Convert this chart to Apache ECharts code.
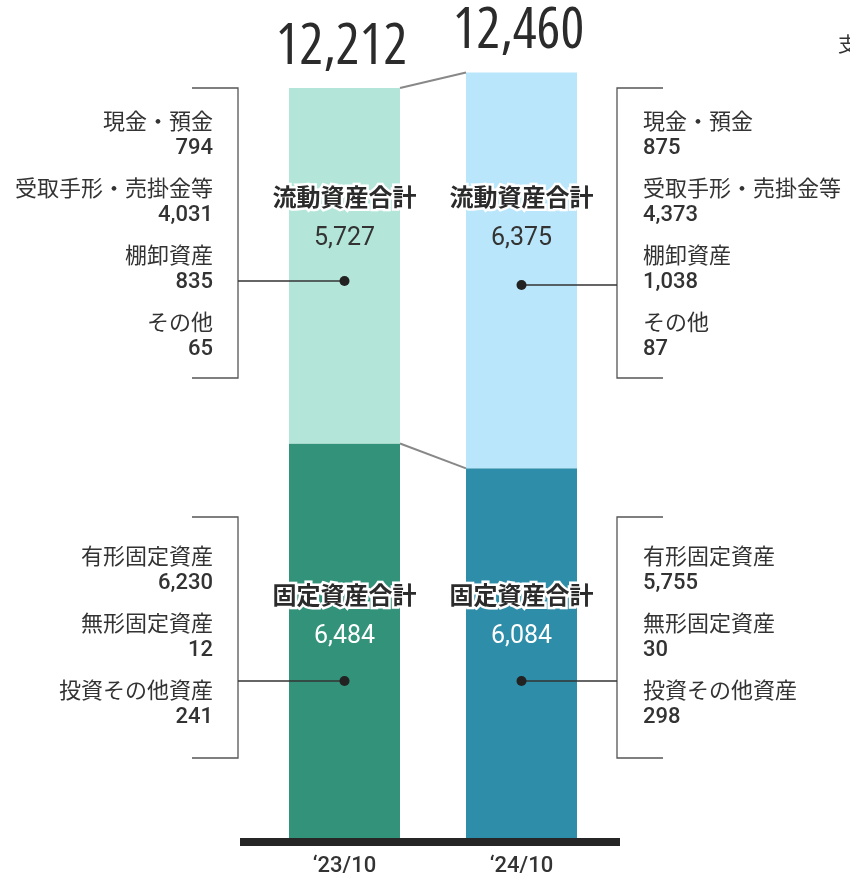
<!DOCTYPE html>
<html><head><meta charset="utf-8">
<script src="https://cdn.jsdelivr.net/npm/echarts@6/dist/echarts.min.js"></script>
<style>html,body{margin:0;padding:0;background:#fff}#c{width:850px;height:878px}</style>
</head><body><div id="c"></div>
<script>
const categories = ['‘23/10', '‘24/10'];
const grandTotals = [12212, 12460];
const currentTotals = [5727, 6375];
const fixedTotals = [6484, 6084];
const currentItemNames = ['現金・預金', '受取手形・売掛金等', '棚卸資産', 'その他'];
const currentItems0 = [794, 4031, 835, 65];
const currentItems1 = [875, 4373, 1038, 87];
const fixedItemNames = ['有形固定資産', '無形固定資産', '投資その他資産'];
const fixedItems0 = [6230, 12, 241];
const fixedItems1 = [5755, 30, 298];
const currentTitle = '流動資産合計';
const fixedTitle = '固定資産合計';

const currentItems = [currentItems0, currentItems1];
const fixedItems = [fixedItems0, fixedItems1];
const fixedColors = ['#32927a', '#2e8da8'];
const currentColors = ['#b3e6d9', '#b9e6fa'];
const BAR_W = 111;
const JP = "'Noto Sans CJK JP', 'Noto Sans', sans-serif";
const NUM = "Roboto, 'Noto Sans CJK JP', sans-serif";
const fmt = v => v.toLocaleString('en-US');

// pick a narrow font for the big totals (target ~128px wide for "12,212" at cap height ~40px)
const BIG = (function () {
  const ctx = document.createElement('canvas').getContext('2d');
  const w = f => { ctx.font = f; return ctx.measureText('12,212').width; };
  const tries = [
    ['condensed 500 56px "Noto Sans"', '500 56px "Noto Sans"'],
    ['condensed 500 56px "Open Sans"', '500 56px "Open Sans"'],
    ['condensed 56px "DejaVu Sans"', '56px "DejaVu Sans"'],
    ['56px "Liberation Sans Narrow"', '56px "Nonexistent Font Xyz"'],
    ['56px "DejaVu Sans Condensed"', '56px "Nonexistent Font Xyz"']
  ];
  for (const [a, b] of tries) {
    const wa = w(a), wb = w(b);
    if (wa < wb * 0.92) return a;
  }
  const wr = w('500 56px Roboto');
  const size = Math.round(56 * 132 / wr);
  return '500 ' + size + 'px Roboto';
})();

function renderItem(params, api) {
  const i = api.value(0);
  const base = api.coord([i, 0]);
  const cx = base[0], y0 = base[1];
  const half = BAR_W / 2;
  const yTop = api.coord([i, grandTotals[i]])[1];
  const yMid = api.coord([i, fixedTotals[i]])[1];
  const left = i === 0;
  const bx = left ? 238 : 617;
  const tickEnd = left ? 192 : 663;
  const tx = left ? 213 : 643;
  const align = left ? 'right' : 'left';
  const ch = [];
  if (i < grandTotals.length - 1) {
    const nx = api.coord([i + 1, 0])[0];
    const nTop = api.coord([i + 1, grandTotals[i + 1]])[1];
    const nMid = api.coord([i + 1, fixedTotals[i + 1]])[1];
    ch.push({type: 'line', shape: {x1: cx + half, y1: yTop, x2: nx - half, y2: nTop}, style: {stroke: '#888', lineWidth: 2}});
    ch.push({type: 'line', shape: {x1: cx + half, y1: yMid, x2: nx - half, y2: nMid}, style: {stroke: '#888', lineWidth: 2}});
    ch.push({type: 'rect', shape: {x: 240, y: y0 - 8, width: 380, height: 8}, style: {fill: '#262626'}});
  }
  ch.push({type: 'text', style: {text: fmt(grandTotals[i]), x: cx - 3, y: yTop - 40, align: 'center', verticalAlign: 'middle', font: BIG, fill: '#2b2b2b'}});
  ch.push({type: 'text', style: {text: currentTitle, x: cx, y: 197, align: 'center', verticalAlign: 'middle', font: 'bold 24px ' + JP, fill: '#2b2b2b', stroke: '#fff', lineWidth: 5}});
  ch.push({type: 'text', style: {text: fmt(currentTotals[i]), x: cx, y: 239, align: 'center', verticalAlign: 'middle', font: '25px ' + NUM, fill: '#333'}});
  ch.push({type: 'text', style: {text: fixedTitle, x: cx, y: 595, align: 'center', verticalAlign: 'middle', font: 'bold 24px ' + JP, fill: '#2b2b2b', stroke: '#fff', lineWidth: 5}});
  ch.push({type: 'text', style: {text: fmt(fixedTotals[i]), x: cx, y: 637, align: 'center', verticalAlign: 'middle', font: '25px ' + NUM, fill: '#fff'}});
  const groups = [
    {top: 88, bottom: 378, dot: left ? 281 : 285, names: currentItemNames, vals: currentItems[i], y: 121},
    {top: 517, bottom: 758, dot: 681, names: fixedItemNames, vals: fixedItems[i], y: 556}
  ];
  groups.forEach(g => {
    ch.push({type: 'polyline', shape: {points: [[tickEnd, g.top], [bx, g.top], [bx, g.bottom], [tickEnd, g.bottom]]}, style: {stroke: '#555', lineWidth: 1.3, fill: null}});
    ch.push({type: 'line', shape: {x1: cx, y1: g.dot, x2: bx, y2: g.dot}, style: {stroke: '#333', lineWidth: 1.5}});
    ch.push({type: 'circle', shape: {cx: cx, cy: g.dot, r: 5}, style: {fill: '#222'}});
    g.names.forEach((n, k) => {
      const yy = g.y + k * 67;
      ch.push({type: 'text', style: {text: n, x: tx, y: yy, align: align, verticalAlign: 'middle', font: '22px ' + JP, fill: '#333'}});
      ch.push({type: 'text', style: {text: fmt(g.vals[k]), x: tx, y: yy + 27, align: align, verticalAlign: 'middle', font: '500 22px ' + NUM, fill: '#333'}});
    });
  });
  return {type: 'group', children: ch};
}

const chart = echarts.init(document.getElementById('c'), null, {renderer: 'canvas'});
chart.setOption({
  animation: false,
  backgroundColor: '#fff',
  grid: {left: 256, right: 240, top: 39, bottom: 32, containLabel: false},
  xAxis: {type: 'category', data: categories, axisLine: {show: false}, axisTick: {show: false},
    axisLabel: {margin: 9, fontSize: 22, fontFamily: NUM, fontWeight: 500, color: '#333'}},
  yAxis: {type: 'value', min: 0, max: 13000, show: false, splitLine: {show: false}},
  graphic: [{type: 'text', left: 838, top: 34, style: {text: '支払手形', font: '20px ' + JP, fill: '#333'}}],
  series: [
    {type: 'bar', stack: 'a', barWidth: BAR_W, data: fixedTotals.map((v, i) => ({value: v, itemStyle: {color: fixedColors[i]}}))},
    {type: 'bar', stack: 'a', barWidth: BAR_W, data: currentTotals.map((v, i) => ({value: v, itemStyle: {color: currentColors[i]}}))},
    {type: 'custom', renderItem: renderItem, clip: false, z: 5, data: categories.map((c, i) => [i]), encode: {x: 0}}
  ]
});
</script></body></html>
